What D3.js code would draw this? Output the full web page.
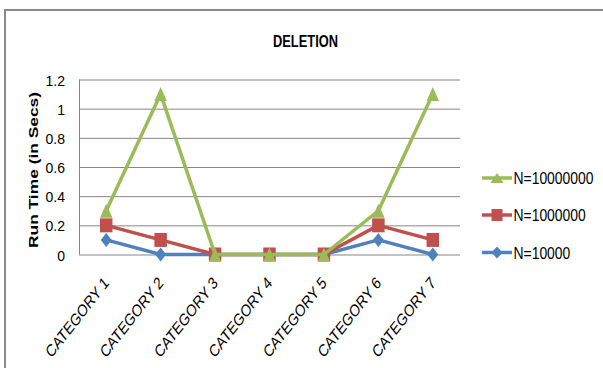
<!DOCTYPE html>
<html>
<head>
<meta charset="utf-8">
<script src="https://cdn.jsdelivr.net/npm/d3@7"></script>
<style>
  html, body { margin: 0; padding: 0; background: #fff; }
  svg { display: block; }
  text { font-family: "Liberation Sans", Arial, sans-serif; fill: #000; }
</style>
</head>
<body>
<svg id="chart" width="603" height="368"></svg>
<script>
// ---- data ----
const categories = ["CATEGORY 1", "CATEGORY 2", "CATEGORY 3", "CATEGORY 4", "CATEGORY 5", "CATEGORY 6", "CATEGORY 7"];
const seriesNames = ["N=10000", "N=1000000", "N=10000000"];
const n10000    = [0.1, 0,   0, 0, 0, 0.1, 0];
const n1000000  = [0.2, 0.1, 0, 0, 0, 0.2, 0.1];
const n10000000 = [0.3, 1.1, 0, 0, 0, 0.3, 1.1];
const yTicks = [0, 0.2, 0.4, 0.6, 0.8, 1, 1.2];
const yTickLabels = ["0", "0.2", "0.4", "0.6", "0.8", "1", "1.2"];
const titleText = "DELETION";
const yTitle = "Run Time (in Secs)";

// ---- styles ----
const colors = { "N=10000": "#4F81BD", "N=1000000": "#C0504D", "N=10000000": "#9BBB59" };
const markerType = { "N=10000": "diamond", "N=1000000": "square", "N=10000000": "triangle" };
const series = [
  { name: seriesNames[0], values: n10000 },
  { name: seriesNames[1], values: n1000000 },
  { name: seriesNames[2], values: n10000000 }
];

const svg = d3.select("#chart");

// outer chart border (left + top visible)
svg.append("path")
  .attr("d", "M5,368 L5,10 L603,10")
  .attr("fill", "none")
  .attr("stroke", "#8a8a8a")
  .attr("stroke-width", 2);

const plot = { left: 79, right: 460, top: 79.5, bottom: 254.5 };

const x = d3.scalePoint().domain(categories).range([plot.left, plot.right]).padding(0.5);
const y = d3.scaleLinear().domain([0, 1.2]).range([plot.bottom, plot.top]);

// gridlines
const grid = svg.append("g")
  .attr("transform", `translate(${plot.left},0)`)
  .call(d3.axisLeft(y).tickValues(yTicks).tickSize(-(plot.right - plot.left)).tickFormat(""));
grid.select(".domain").remove();
grid.selectAll("line").attr("stroke", "#868686").attr("stroke-width", 1);

// left axis line
svg.append("line")
  .attr("x1", plot.left + 0.5).attr("x2", plot.left + 0.5)
  .attr("y1", plot.top).attr("y2", plot.bottom)
  .attr("stroke", "#868686").attr("stroke-width", 1);

// y tick labels
const yAxis = svg.append("g")
  .attr("transform", `translate(${plot.left},0)`)
  .call(d3.axisLeft(y).tickValues(yTicks).tickSize(0).tickPadding(14)
        .tickFormat((d, i) => yTickLabels[i]));
yAxis.select(".domain").remove();
yAxis.attr("font-family", null).attr("font-size", null);
yAxis.selectAll("text")
  .style("font-size", "14px")
  .attr("fill", "#000")
  .attr("dy", "0.4em");

// x tick labels (slanted like italic, rotated)
const xAxis = svg.append("g")
  .attr("transform", `translate(0,${plot.bottom})`)
  .call(d3.axisBottom(x).tickSize(0));
xAxis.select(".domain").remove();
xAxis.attr("font-family", null).attr("font-size", null);
xAxis.selectAll("text")
  .attr("x", 0).attr("y", 0).attr("dy", 0)
  .attr("text-anchor", "end")
  .style("font-size", "15px")
  .attr("fill", "#000")
  .attr("transform", `translate(3,${284 - plot.bottom}) rotate(-52) skewX(-13)`);

// helper: squeeze text horizontally to a target width
function fitWidth(sel, target) {
  const len = sel.node().getComputedTextLength();
  return target / len;
}

// title
const title = svg.append("text")
  .attr("text-anchor", "middle")
  .attr("font-size", 16.5)
  .attr("font-weight", "bold")
  .text(titleText);
title.attr("transform", `translate(305.5,47) scale(${fitWidth(title, 65)},1)`);

// y title
const yt = svg.append("text")
  .attr("text-anchor", "middle")
  .attr("font-size", 13.2)
  .attr("font-weight", "bold")
  .text(yTitle);
yt.attr("transform", `translate(38,170) rotate(-90) scale(${fitWidth(yt, 156)},1)`);

// marker generator
function markerPath(type, w, h) {
  const hw = w / 2, hh = h / 2;
  if (type === "diamond") return `M0,${-hh} L${hw},0 L0,${hh} L${-hw},0 Z`;
  if (type === "square") return `M${-hw},${-hh} L${hw},${-hh} L${hw},${hh} L${-hw},${hh} Z`;
  return `M0,${-hh} L${hw},${hh} L${-hw},${hh} Z`;
}
const markerSize = { diamond: [11, 14], square: [12.5, 14], triangle: [12.5, 14] };

const line = d3.line()
  .x((d, i) => x(categories[i]))
  .y(d => y(d));

series.forEach(s => {
  const g = svg.append("g");
  g.append("path")
    .attr("d", line(s.values))
    .attr("fill", "none")
    .attr("stroke", colors[s.name])
    .attr("stroke-width", 3.5)
    .attr("stroke-linejoin", "round");
  const t = markerType[s.name];
  const [mw, mh] = markerSize[t];
  g.selectAll("path.m").data(s.values).enter().append("path")
    .attr("class", "m")
    .attr("transform", (d, i) => `translate(${x(categories[i])},${y(d)})`)
    .attr("d", markerPath(t, mw, mh))
    .attr("fill", colors[s.name]);
});

// legend (top to bottom: reversed series order)
const legendRows = [
  { name: seriesNames[2], y: 178 },
  { name: seriesNames[1], y: 215 },
  { name: seriesNames[0], y: 252.5 }
];
const legendMarkerSize = { diamond: [11, 12], square: [11, 12], triangle: [13, 10] };
let legendScale = null;
legendRows.forEach(r => {
  const g = svg.append("g").attr("transform", `translate(0,${r.y})`);
  g.append("line")
    .attr("x1", 482).attr("x2", 512)
    .attr("y1", 0).attr("y2", 0)
    .attr("stroke", colors[r.name]).attr("stroke-width", 3.5);
  const t = markerType[r.name];
  const [mw, mh] = legendMarkerSize[t];
  g.append("path")
    .attr("transform", "translate(497,0)")
    .attr("d", markerPath(t, mw, mh))
    .attr("fill", colors[r.name]);
  const txt = g.append("text")
    .attr("font-size", 16.5)
    .text(r.name);
  if (legendScale === null) legendScale = fitWidth(txt, 80);
  txt.attr("transform", `translate(513.5,6) scale(${legendScale},1)`);
});
</script>
</body>
</html>
